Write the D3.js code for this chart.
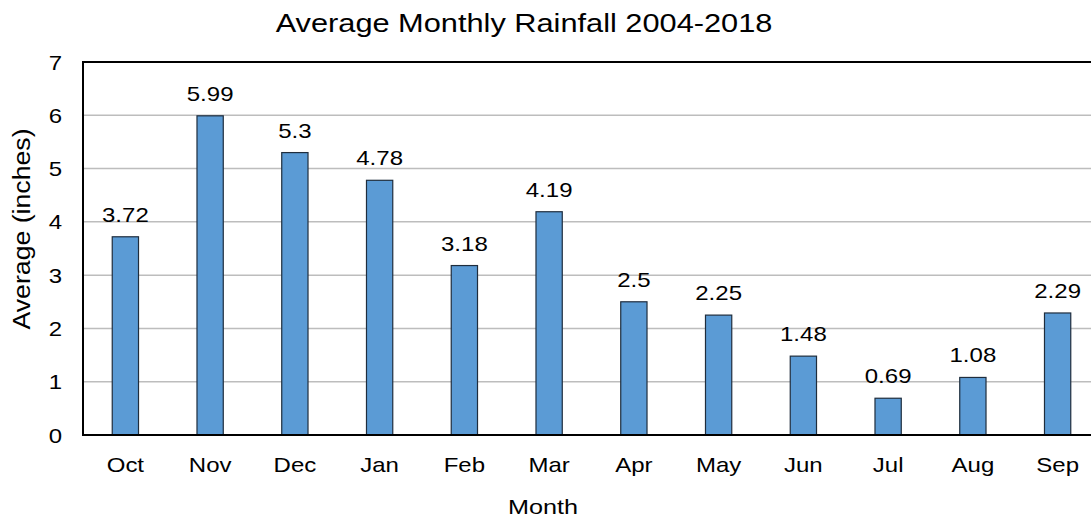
<!DOCTYPE html>
<html><head><meta charset="utf-8">
<script src="https://cdn.jsdelivr.net/npm/d3@7"></script>
<style>body{margin:0;background:#fff;} svg{display:block;} text{font-family:Arial,"Liberation Sans",sans-serif;fill:#000;}</style>
</head><body><svg id="c" width="1091" height="518"></svg>
<script>
const months = ["Oct","Nov","Dec","Jan","Feb","Mar","Apr","May","Jun","Jul","Aug","Sep"];
const rainfall = [3.72,5.99,5.3,4.78,3.18,4.19,2.5,2.25,1.48,0.69,1.08,2.29];
const labels = ["3.72","5.99","5.3","4.78","3.18","4.19","2.5","2.25","1.48","0.69","1.08","2.29"];
const yTicks = [0,1,2,3,4,5,6,7];

const svg = d3.select("#c");
const L=83, R=1100, T=62, B=435;
const SX = 1.2;
const x = d3.scaleBand().domain(months).range([L,R]).paddingInner(0.69).paddingOuter(0.345);
const y = d3.scaleLinear().domain([0,7]).range([B,T]);

// gridlines
svg.append("g").selectAll("line").data(yTicks.filter(d=>d>0&&d<7)).join("line")
  .attr("x1",L).attr("x2",R).attr("y1",d=>y(d)).attr("y2",d=>y(d))
  .attr("stroke","#bdbdbd").attr("stroke-width",1.5);

// bars
svg.append("g").selectAll("rect").data(rainfall).join("rect")
  .attr("x",(d,i)=>x(months[i])).attr("width",x.bandwidth())
  .attr("y",d=>y(d)).attr("height",d=>B-y(d))
  .attr("fill","#5b9bd5").attr("stroke","#1f2d3d").attr("stroke-width",1.2);

// value labels
svg.append("g").selectAll("text").data(rainfall).join("text")
  .attr("transform",(d,i)=>`translate(${x(months[i])+x.bandwidth()/2},${y(d)-15}) scale(${SX},1)`)
  .attr("text-anchor","middle").attr("font-size",20).text((d,i)=>labels[i]);

// plot border
svg.append("rect").attr("x",L).attr("y",T).attr("width",R-L).attr("height",B-T)
  .attr("fill","none").attr("stroke","#000").attr("stroke-width",2);

// y axis
const ya = svg.append("g").attr("transform",`translate(${L},0)`)
  .call(d3.axisLeft(y).tickValues(yTicks).tickSize(0).tickPadding(21).tickFormat(d3.format("d")));
ya.select(".domain").remove();
ya.selectAll("text").attr("font-size",20).attr("x",null).attr("dy","0.35em")
  .attr("transform",`translate(-21,0) scale(${SX},1)`)
  .style("font-family","Arial, 'Liberation Sans', sans-serif");

// x axis
const xa = svg.append("g").attr("transform",`translate(0,${B})`)
  .call(d3.axisBottom(x).tickSize(0).tickPadding(0));
xa.select(".domain").remove();
xa.selectAll("text").attr("font-size",20).attr("y",null).attr("dy",null)
  .attr("transform",`translate(0,37) scale(${SX},1)`)
  .style("font-family","Arial, 'Liberation Sans', sans-serif");

// titles
svg.append("text").attr("transform",`translate(524,32) scale(1.23,1)`).attr("text-anchor","middle").attr("font-size",25).text("Average Monthly Rainfall 2004-2018");
svg.append("text").attr("transform",`translate(543,514) scale(${SX},1)`).attr("text-anchor","middle").attr("font-size",21).text("Month");
svg.append("text").attr("transform",`translate(30,229) rotate(-90) scale(1.16,1)`).attr("text-anchor","middle").attr("font-size",23).text("Average (inches)");
</script></body></html>
